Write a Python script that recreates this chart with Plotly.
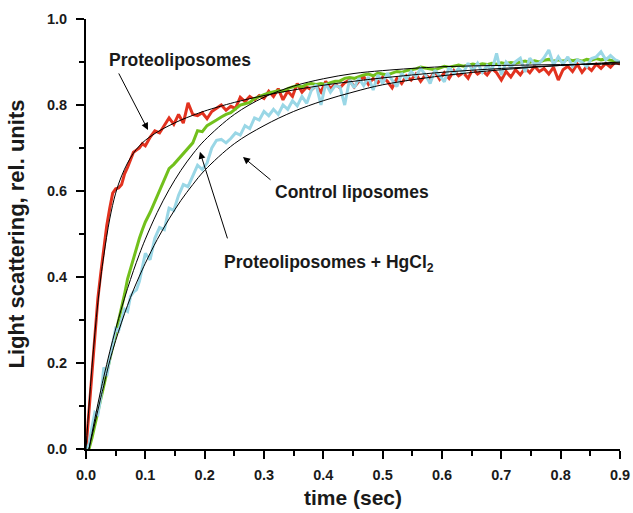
import plotly.graph_objects as go

# ---------------- data ----------------
time_grid = [0.0, 0.005, 0.01, 0.015, 0.02, 0.025, 0.03, 0.035, 0.04, 0.045, 0.05,
             0.055, 0.06, 0.065, 0.07, 0.075, 0.08, 0.085, 0.09, 0.095, 0.1,
             0.108, 0.116, 0.124, 0.132, 0.14, 0.148, 0.156, 0.164, 0.172, 0.18,
             0.188, 0.196, 0.204, 0.212, 0.22, 0.228, 0.236, 0.244, 0.252, 0.26,
             0.268, 0.276, 0.284, 0.292, 0.3, 0.308, 0.316, 0.324, 0.332, 0.34,
             0.348, 0.356, 0.364, 0.372, 0.38, 0.388, 0.396, 0.404, 0.412, 0.42,
             0.428, 0.436, 0.444, 0.452, 0.46, 0.468, 0.476, 0.484, 0.492, 0.5,
             0.508, 0.516, 0.524, 0.532, 0.54, 0.548, 0.556, 0.564, 0.572, 0.58,
             0.588, 0.596, 0.604, 0.612, 0.62, 0.628, 0.636, 0.644, 0.652, 0.66,
             0.668, 0.676, 0.684, 0.692, 0.7, 0.708, 0.716, 0.724, 0.732, 0.74,
             0.748, 0.756, 0.764, 0.772, 0.78, 0.788, 0.796, 0.804, 0.812, 0.82,
             0.828, 0.836, 0.844, 0.852, 0.86, 0.868, 0.876, 0.884, 0.892, 0.9]

proteo = [0.0, 0.09, 0.18, 0.27, 0.35, 0.41, 0.47, 0.52, 0.56, 0.595, 0.605,
          0.607, 0.615, 0.64, 0.655, 0.675, 0.69, 0.695, 0.70, 0.71, 0.705,
          0.725, 0.74, 0.735, 0.752, 0.77, 0.755, 0.778, 0.758, 0.805, 0.778,
          0.775, 0.782, 0.768, 0.785, 0.792, 0.80, 0.788, 0.797, 0.792, 0.818,
          0.808, 0.82, 0.812, 0.822, 0.815, 0.832, 0.82, 0.838, 0.812, 0.832,
          0.82, 0.85, 0.83, 0.842, 0.835, 0.845, 0.83, 0.855, 0.838, 0.848,
          0.84, 0.852, 0.858, 0.842, 0.855, 0.866, 0.848, 0.862, 0.852, 0.865,
          0.855, 0.84, 0.862, 0.85, 0.868, 0.858, 0.872, 0.855, 0.87, 0.862,
          0.878, 0.86, 0.875, 0.862, 0.88, 0.868, 0.875, 0.862, 0.884, 0.872,
          0.88, 0.87, 0.885, 0.875, 0.858, 0.878, 0.865, 0.882, 0.87, 0.886,
          0.875, 0.89, 0.878, 0.885, 0.872, 0.888, 0.858, 0.882, 0.89, 0.878,
          0.895, 0.876, 0.89, 0.88, 0.895, 0.885, 0.897, 0.888, 0.9, 0.895]

proteo_hg = [0.0, 0.0, 0.025, 0.055, 0.085, 0.115, 0.145, 0.175, 0.205, 0.235, 0.265,
             0.295, 0.325, 0.36, 0.395, 0.42, 0.44, 0.465, 0.49, 0.51, 0.528,
             0.55, 0.575, 0.60, 0.625, 0.652, 0.662, 0.675, 0.688, 0.70, 0.712,
             0.74, 0.738, 0.752, 0.758, 0.765, 0.772, 0.778, 0.782, 0.79, 0.80,
             0.803, 0.806, 0.815, 0.82, 0.824, 0.828, 0.83, 0.833, 0.832, 0.838,
             0.842, 0.845, 0.842, 0.848, 0.85, 0.848, 0.85, 0.848, 0.852, 0.855,
             0.856, 0.862, 0.864, 0.862, 0.866, 0.87, 0.872, 0.868, 0.874, 0.872,
             0.87, 0.874, 0.878, 0.876, 0.88, 0.882, 0.884, 0.888, 0.886, 0.884,
             0.882, 0.886, 0.89, 0.888, 0.89, 0.893, 0.89, 0.892, 0.895, 0.893,
             0.896, 0.894, 0.897, 0.895, 0.898, 0.896, 0.899, 0.897, 0.9, 0.902,
             0.899, 0.903, 0.9, 0.904, 0.906, 0.902, 0.905, 0.902, 0.906, 0.903,
             0.905, 0.902, 0.906, 0.904, 0.908, 0.905, 0.907, 0.904, 0.903, 0.9]

control = [0.0, 0.01, 0.05, 0.085, 0.08, 0.12, 0.19, 0.17, 0.21, 0.25, 0.28,
           0.275, 0.30, 0.325, 0.32, 0.355, 0.365, 0.37, 0.39, 0.42, 0.455,
           0.44, 0.49, 0.515, 0.51, 0.56, 0.555, 0.59, 0.615, 0.61, 0.635,
           0.66, 0.65, 0.665, 0.70, 0.718, 0.72, 0.712, 0.722, 0.735, 0.73,
           0.752, 0.745, 0.77, 0.765, 0.785, 0.775, 0.79, 0.778, 0.80, 0.79,
           0.81, 0.798, 0.82, 0.804, 0.835, 0.847, 0.80, 0.85, 0.83, 0.845,
           0.842, 0.80, 0.858, 0.84, 0.862, 0.845, 0.865, 0.835, 0.87, 0.85,
           0.874, 0.858, 0.843, 0.874, 0.86, 0.878, 0.866, 0.885, 0.87, 0.85,
           0.881, 0.868, 0.854, 0.889, 0.872, 0.885, 0.875, 0.897, 0.88, 0.897,
           0.876, 0.892, 0.88, 0.92, 0.87, 0.9, 0.888, 0.901, 0.909, 0.877,
           0.909, 0.895, 0.897, 0.91, 0.928, 0.893, 0.912, 0.895, 0.912, 0.89,
           0.905, 0.9, 0.889, 0.908, 0.912, 0.924, 0.905, 0.915, 0.905, 0.90]

fit_time = [0.0, 0.005, 0.01, 0.015, 0.02, 0.025, 0.03, 0.04, 0.05, 0.06, 0.07,
            0.08, 0.09, 0.1, 0.12, 0.14, 0.16, 0.18, 0.2, 0.25, 0.3, 0.35, 0.4,
            0.45, 0.5, 0.6, 0.7, 0.8, 0.9]
fit_proteo = [0.0, 0.10, 0.19, 0.27, 0.34, 0.40, 0.45, 0.535, 0.595, 0.635, 0.665,
              0.688, 0.705, 0.718, 0.737, 0.752, 0.765, 0.776, 0.786, 0.806, 0.822,
              0.835, 0.846, 0.855, 0.863, 0.876, 0.885, 0.892, 0.898]
fit_proteo_hg = [None, 0.0, 0.036, 0.071, 0.105, 0.137, 0.168, 0.226, 0.279, 0.328, 0.373,
                 0.415, 0.453, 0.488, 0.55, 0.603, 0.648, 0.686, 0.718, 0.778, 0.818,
                 0.844, 0.861, 0.873, 0.88, 0.889, 0.892, 0.894, 0.895]
fit_control = [None, 0.0, 0.03, 0.06, 0.09, 0.12, 0.148, 0.205, 0.252, 0.295, 0.334,
               0.37, 0.402, 0.432, 0.487, 0.535, 0.578, 0.615, 0.648, 0.71, 0.752,
               0.785, 0.81, 0.83, 0.847, 0.868, 0.882, 0.892, 0.90]

x_ticks = [0.0, 0.1, 0.2, 0.3, 0.4, 0.5, 0.6, 0.7, 0.8, 0.9]
x_tick_text = ["0.0", "0.1", "0.2", "0.3", "0.4", "0.5", "0.6", "0.7", "0.8", "0.9"]
y_ticks = [0.0, 0.2, 0.4, 0.6, 0.8, 1.0]
y_tick_text = ["0.0", "0.2", "0.4", "0.6", "0.8", "1.0"]

# ---------------- figure ----------------
FONT = "Liberation Sans, Arial, sans-serif"
fig = go.Figure()

fig.add_trace(go.Scatter(x=time_grid, y=proteo, mode="lines",
                         line=dict(color="#e2321f", width=3), showlegend=False))
fig.add_trace(go.Scatter(x=time_grid, y=proteo_hg, mode="lines",
                         line=dict(color="#72c01c", width=3), showlegend=False))
fig.add_trace(go.Scatter(x=time_grid, y=control, mode="lines",
                         line=dict(color="#9ad7e6", width=3), showlegend=False))
for fy in (fit_proteo, fit_proteo_hg, fit_control):
    fig.add_trace(go.Scatter(x=fit_time, y=fy, mode="lines", line_shape="spline",
                             line=dict(color="black", width=1), showlegend=False))

ann_font = dict(family=FONT, size=17.5, color="#1a1a1a", weight="bold")
fig.add_annotation(x=0.1045, y=0.742, ax=-30, ay=-58, showarrow=True, arrowhead=2,
                   arrowsize=1.4, arrowwidth=1, arrowcolor="black", text="")
fig.add_annotation(x=0.2646, y=0.679, ax=29, ay=24, showarrow=True, arrowhead=2,
                   arrowsize=1.4, arrowwidth=1, arrowcolor="black", text="")
fig.add_annotation(x=0.192, y=0.691, ax=28, ay=88, showarrow=True, arrowhead=2,
                   arrowsize=1.4, arrowwidth=1, arrowcolor="black", text="")
fig.add_annotation(x=0.1581, y=0.905, text="Proteoliposomes", showarrow=False, font=ann_font)
fig.add_annotation(x=0.4475, y=0.598, text="Control liposomes", showarrow=False, font=ann_font)
fig.add_annotation(x=0.4095, y=0.432, text="Proteoliposomes + HgCl<sub>2</sub>",
                   showarrow=False, font=ann_font)

axis_common = dict(showline=True, linecolor="black", linewidth=2, ticks="outside",
                   ticklen=8, tickwidth=2, tickcolor="black", showgrid=False,
                   zeroline=False, mirror=False, automargin=False,
                   ticklabeloverflow="allow",
                   tickfont=dict(family=FONT, size=14.5, color="#1a1a1a", weight="bold"))

# full-window figure; the page's default body margin is removed after plotting
fig.update_layout(
    width=633, height=513,
    margin=dict(l=86, r=13, t=19, b=64),
    plot_bgcolor="white", paper_bgcolor="white",
    xaxis=dict(range=[0, 0.9], tickvals=x_ticks, ticktext=x_tick_text,
               ticklabelstandoff=4,
               minor=dict(dtick=0.05, ticks="outside", ticklen=5, tickwidth=2, tickcolor="black"),
               title=dict(text="time (sec)", standoff=8,
                          font=dict(family=FONT, size=21, color="#1a1a1a", weight="bold")),
               **axis_common),
    yaxis=dict(range=[0, 1.0], tickvals=y_ticks, ticktext=y_tick_text,
               ticklabelstandoff=6,
               minor=dict(dtick=0.1, ticks="outside", ticklen=5, tickwidth=2, tickcolor="black"),
               title=dict(text="Light scattering, rel. units", standoff=16,
                          font=dict(family=FONT, size=22, color="#1a1a1a", weight="bold")),
               **axis_common),
)

fig.write_html(
    "out.html",
    config={"displayModeBar": False},
    post_script="document.body.style.margin='0';"
                "document.documentElement.style.overflow='hidden';"
                "document.body.style.overflow='hidden';",
)
